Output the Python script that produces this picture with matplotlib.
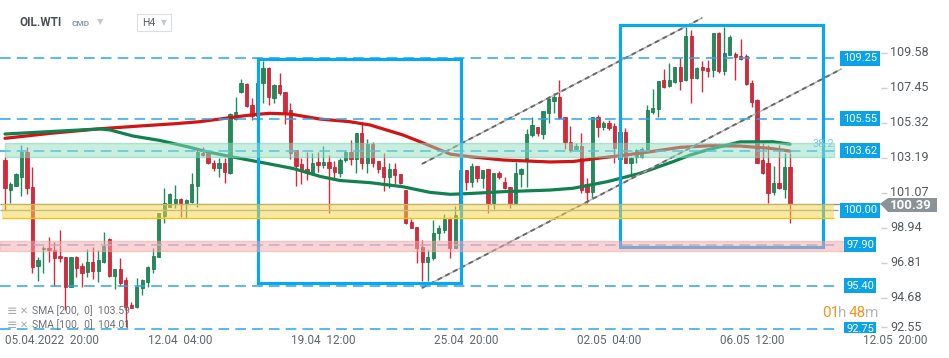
import numpy as np
import matplotlib.pyplot as plt
from matplotlib.patches import Rectangle, Polygon

plt.rcParams['font.family'] = ['Roboto', 'DejaVu Sans']

# H4 candles, OIL.WTI
opens = [103.05, 101.22, 101.48, 102.03, 103.55, 101.42, 96.59, 97.65, 97.67, 97.57,
         97.20, 97.12, 95.34, 97.12, 96.59, 96.25, 96.86, 96.31, 96.86, 98.22,
         95.98, 96.39, 95.74, 94.22, 94.12, 95.24, 95.64, 96.39, 97.12, 99.64,
         100.21, 100.45, 100.67, 100.41, 100.47, 101.46, 103.45, 103.45, 102.88, 102.54,
         102.84, 102.27, 105.52, 107.21, 107.67, 106.39, 105.72, 107.71, 108.63, 106.80,
         107.60, 107.20, 106.09, 103.65, 102.80, 102.48, 102.27, 102.94, 102.74, 102.94,
         102.64, 102.27, 103.05, 103.55, 103.09, 104.71, 102.88, 104.02, 103.00, 102.60,
         101.99, 102.48, 102.17, 101.22, 99.29, 98.95, 97.73, 96.86, 97.06, 98.58,
         98.79, 99.43, 97.67, 100.00, 102.44, 101.73, 102.68, 101.93, 102.48, 100.41,
         102.27, 101.73, 101.42, 100.45, 102.19, 103.05, 104.57, 105.03, 104.63, 105.93,
         106.66, 106.86, 105.65, 104.16, 103.70, 103.90, 101.59, 101.12, 105.65, 105.04,
         105.32, 105.12, 103.09, 104.77, 102.88, 103.25, 103.25, 103.70, 105.99, 106.13,
         107.92, 107.55, 107.82, 108.69, 107.92, 110.60, 108.02, 108.69, 108.63, 108.53,
         110.80, 108.49, 109.44, 109.50, 109.38, 109.38, 107.72, 106.70, 103.05, 102.88,
         101.12, 101.67, 101.26, 102.60]
highs = [103.21, 101.73, 102.23, 103.96, 103.86, 102.64, 97.16, 97.81, 98.38, 98.07,
         98.78, 97.16, 97.16, 97.20, 96.76, 97.61, 97.77, 97.57, 98.68, 98.28,
         96.39, 97.06, 95.94, 94.42, 95.84, 95.78, 96.59, 97.67, 99.84, 101.32,
         101.02, 101.52, 100.71, 100.65, 102.27, 103.65, 103.82, 103.55, 103.05, 103.15,
         103.15, 105.89, 106.90, 107.96, 107.75, 106.80, 107.75, 109.09, 108.73, 107.70,
         108.32, 107.20, 106.49, 103.65, 103.15, 103.55, 103.49, 103.55, 103.90, 103.35,
         103.00, 103.15, 103.65, 104.26, 104.71, 105.32, 104.30, 104.16, 103.00, 103.45,
         102.88, 102.84, 102.17, 101.22, 99.43, 98.99, 98.18, 97.57, 99.39, 99.09,
         99.76, 99.60, 100.25, 102.44, 102.44, 102.88, 102.68, 102.44, 102.48, 102.27,
         102.37, 101.99, 101.42, 102.94, 102.54, 104.91, 105.64, 105.07, 106.05, 106.94,
         107.15, 107.92, 105.65, 105.12, 104.10, 104.71, 101.93, 105.65, 105.79, 105.44,
         105.48, 105.28, 104.80, 104.98, 103.25, 103.70, 103.86, 106.40, 107.35, 107.88,
         108.57, 108.93, 108.73, 109.24, 111.17, 110.96, 108.69, 109.10, 109.14, 110.80,
         110.86, 111.17, 110.66, 109.64, 110.40, 109.50, 107.92, 106.74, 104.06, 103.96,
         102.68, 103.96, 103.45, 103.45]
lows = [100.00, 100.41, 101.48, 100.85, 100.98, 96.15, 95.70, 96.15, 96.86, 95.38,
        96.86, 93.92, 95.34, 95.90, 95.34, 95.90, 95.78, 95.64, 96.76, 95.90,
        95.17, 95.38, 92.89, 94.02, 94.02, 94.83, 95.34, 96.15, 97.12, 99.19,
        100.21, 100.11, 99.60, 99.50, 100.45, 100.21, 103.29, 102.80, 102.40, 102.03,
        101.67, 102.19, 105.48, 107.14, 106.29, 105.48, 105.50, 106.49, 106.39, 106.50,
        107.00, 105.24, 103.09, 101.48, 101.58, 101.83, 102.20, 102.33, 102.54, 99.84,
        101.83, 102.03, 102.94, 102.74, 102.23, 102.48, 102.27, 102.60, 102.27, 101.18,
        101.32, 101.58, 101.58, 99.15, 98.89, 96.80, 95.70, 95.70, 96.96, 98.18,
        98.58, 97.06, 97.67, 99.80, 101.22, 101.42, 101.73, 101.32, 99.80, 100.04,
        101.87, 101.26, 100.11, 100.41, 101.42, 101.42, 104.47, 104.51, 104.30, 105.28,
        105.93, 105.53, 103.70, 103.56, 103.66, 101.06, 100.45, 100.72, 104.47, 104.90,
        104.87, 102.88, 102.90, 102.88, 102.08, 102.88, 103.15, 103.66, 105.85, 105.65,
        107.41, 107.51, 107.76, 107.31, 107.88, 106.50, 107.96, 107.21, 108.12, 108.12,
        108.37, 108.22, 109.44, 107.92, 109.14, 107.61, 106.26, 102.88, 102.20, 100.45,
        100.92, 101.26, 100.72, 99.19]
closes = [101.32, 101.58, 102.17, 103.55, 101.32, 96.55, 96.96, 97.70, 97.57, 97.06,
          97.06, 95.34, 97.12, 96.45, 96.19, 96.86, 96.31, 96.96, 97.81, 95.98,
          96.39, 95.54, 94.12, 94.06, 95.30, 95.74, 96.51, 97.20, 99.80, 100.41,
          100.98, 100.67, 100.41, 100.61, 101.58, 103.55, 103.35, 102.84, 102.54, 102.88,
          102.34, 105.85, 105.99, 107.75, 106.33, 105.72, 107.71, 108.63, 106.90, 107.60,
          107.10, 105.99, 103.45, 102.68, 102.40, 102.23, 102.84, 102.74, 102.94, 102.54,
          102.34, 103.05, 103.55, 103.09, 104.71, 102.88, 104.02, 102.88, 102.48, 101.99,
          102.48, 102.13, 101.62, 99.19, 98.89, 97.67, 96.86, 97.16, 98.62, 98.89,
          99.43, 97.67, 99.70, 102.44, 101.73, 102.68, 101.93, 102.44, 100.41, 102.27,
          101.99, 101.32, 100.45, 102.23, 102.48, 104.63, 105.17, 104.67, 106.05, 106.74,
          106.86, 105.59, 104.16, 103.66, 103.90, 101.22, 101.12, 105.65, 105.04, 105.32,
          104.98, 103.76, 104.77, 102.88, 103.15, 103.66, 103.70, 106.09, 106.19, 107.88,
          107.47, 107.92, 108.69, 107.88, 110.60, 108.02, 108.63, 108.53, 108.49, 110.76,
          108.49, 109.54, 110.52, 109.30, 109.18, 107.68, 106.60, 102.88, 102.28, 101.06,
          101.67, 101.33, 102.60, 100.39]

# moving averages (bar index, price)
sma200_x = [0, 8.2, 17.3, 24.6, 30.6, 35.5, 41.5, 45.5, 48.3, 51.9, 57.4, 62.8, 66.5, 72.5,
            75.6, 81.1, 84.7, 90.7, 99.3, 103.5, 108.4, 112.0, 117.5, 123.0, 128.4, 133.9,
            139.3, 143]
sma200_y = [104.37, 104.67, 104.95, 105.12, 105.25, 105.38, 105.65, 105.82, 105.89, 105.85,
            105.54, 105.38, 105.18, 104.57, 104.16, 103.41, 103.25, 103.05, 102.93, 102.96,
            103.17, 103.31, 103.55, 103.82, 103.92, 103.90, 103.76, 103.59]
sma100_x = [0, 8.2, 17.3, 19.1, 23.3, 28.2, 33.2, 36.8, 41.5, 47.7, 52.5, 57.4, 61.0, 66.5,
            72.5, 77.4, 81.1, 84.7, 90.7, 99.3, 103.5, 109.7, 115.7, 121.7, 124.8, 127.9,
            131.5, 133.9, 139.9, 143]
sma100_y = [104.63, 104.78, 104.94, 104.88, 104.51, 104.24, 103.86, 103.55, 103.23, 102.84,
            102.53, 102.05, 101.80, 101.67, 101.42, 101.08, 100.96, 101.01, 101.12, 101.22,
            101.33, 101.73, 102.24, 102.95, 103.35, 103.66, 103.96, 104.15, 104.16, 104.01]

levels = [109.25, 105.55, 103.62, 100.00, 97.90, 95.40, 92.75]
axis_ticks = [109.58, 107.45, 105.32, 103.19, 101.07, 98.94, 96.81, 94.68, 92.55]
time_labels = ['05.04.2022  20:00', '12.04  04:00', '19.04  12:00', '25.04  20:00',
               '02.05  04:00', '06.05  12:00', '12.05  20:00']
last_price = 100.39


def bx(px):
    return (px - 5) / 5.49


def py(px):
    return 109.58 - (px - 52.7) / 16.43


fig = plt.figure(figsize=(9.49, 3.58), dpi=100)
ax = fig.add_axes([0, 0, 1, 1])
ax.set_xlim(bx(0), bx(949))
ax.set_ylim(py(358), py(0))
ax.axis('off')

o = np.array(opens); h = np.array(highs); l = np.array(lows); c = np.array(closes)
idx = np.arange(len(o))
up = c >= o
cols = np.where(up, '#1f8d5b', '#d8293b')
edges = np.where(up, '#157146', '#b31d2c')
ax.vlines(idx, l, h, colors=cols, lw=1, zorder=2)
body = np.maximum(np.abs(c - o), 0.07)
ax.bar(idx, body, bottom=np.minimum(o, c), width=0.6, color=cols, edgecolor=edges,
       lw=0.5, zorder=2)

# moving averages
ax.plot(sma200_x, sma200_y, color='#d21414', lw=2.3, zorder=3, solid_capstyle='round')
ax.plot(sma100_x, sma100_y, color='#11824f', lw=2.3, zorder=3, solid_capstyle='round')

# channel
for (x0, y0, x1, y1) in [(75.96, 102.81, 126.96, 111.69), (75.96, 95.26, 152.3, 108.58)]:
    ax.plot([x0, x1], [y0, y1], color='#b4b4b4', lw=1.0, zorder=4)
    ax.plot([x0, x1], [y0, y1], color='#6a6a6a', lw=1.4, dashes=(2.5, 2.0), zorder=4)

# boxes
ax.add_patch(Rectangle((bx(258), py(282.7)), bx(461) - bx(258), py(59.3) - py(282.7),
                       fill=False, ec='#0aa6ee', lw=2.3, zorder=5))
ax.add_patch(Rectangle((bx(620), py(247)), bx(823) - bx(620), py(24.7) - py(247),
                       fill=False, ec='#0aa6ee', lw=2.3, zorder=5))

# dashed levels
for lv in [109.25, 105.55, 103.62, 95.40, 92.75]:
    ax.hlines(lv, bx(0), bx(838), colors='#2aa7ea', lw=1.1, linestyles=(0, (7, 4)), zorder=4)
ax.hlines(97.90, bx(0), bx(838), colors='#95aed0', lw=1.1, linestyles=(0, (7, 4)), zorder=4)
ax.hlines(100.00, bx(0), bx(838), colors='#86aab5', lw=1.0, zorder=4)
ax.hlines(last_price, bx(0), bx(880), colors='#8c9296', lw=1.0, zorder=4)

# zones
ax.add_patch(Rectangle((bx(5), 103.23), bx(834) - bx(5), 104.08 - 103.23,
                       fc='#93dfc2', ec='#72cfac', lw=1, alpha=0.5, zorder=6))
ax.add_patch(Rectangle((bx(2), 99.50), bx(834) - bx(2), last_price - 99.50,
                       fc='#fbd443', ec='none', alpha=0.5, zorder=6))
ax.hlines(99.50, bx(2), bx(834), colors='#f0c21a', lw=1.0, zorder=6)
ax.add_patch(Rectangle((bx(0), 97.51), bx(845) - bx(0), 98.11 - 97.51,
                       fc='#f7abab', ec='#f3a0a0', lw=1, alpha=0.5, zorder=6))
ax.text(bx(823), py(144), '38.2', color='#7cc8ee', fontsize=8, ha='center', va='center',
        zorder=7)

# bottom strip for the time axis
ax.add_patch(Rectangle((bx(0), py(358)), bx(949) - bx(0), py(333) - py(358),
                       fc='white', ec='none', zorder=8))

# level tags on the price scale
for lv in levels:
    ax.text(bx(860), lv, f'{lv:.2f}', color='white', fontsize=8, ha='center', va='center',
            zorder=7, bbox=dict(boxstyle='square,pad=0.22', fc='#0aa3ea', ec='none'))

# price scale
for t in axis_ticks:
    yy = t if t > 93 else py(327)
    ax.hlines(yy, bx(881), bx(887), colors='#cfcfcf', lw=1, zorder=9)
    ax.text(bx(890), yy, f'{t:.2f}', color='#555a5e', fontsize=9, ha='left', va='center',
            zorder=9)

# last price tag
tag = Polygon([(bx(880), last_price), (bx(888), py(198)), (bx(937), py(198)),
               (bx(937), py(212)), (bx(888), py(212))], closed=True, fc='#8c9398',
              ec='none', zorder=9)
ax.add_patch(tag)
ax.text(bx(911), py(205.5), f'{last_price:.2f}', color='white', fontsize=9.5,
        fontweight='bold', ha='center', va='center', zorder=10)

# time axis labels
ax.text(bx(5), py(340), time_labels[0], color='#62676b', fontsize=8.5, ha='left',
        va='center', zorder=9)
for k, lab in enumerate(time_labels[1:]):
    ax.text(bx(180.5 + 142.9 * k), py(340), lab, color='#62676b', fontsize=8.5,
            ha='center', va='center', zorder=9)

# header
fig.text(20 / 949, 1 - 23 / 358, 'OIL.WTI', color='#4a5056', fontsize=8.5,
         fontweight='bold', va='center')
fig.text(72 / 949, 1 - 24 / 358, 'CMD', color='#8e9aa6', fontsize=6, fontweight='bold',
         va='center')
fig.text(97 / 949, 1 - 22 / 358, '▼', color='#c5c9cc', fontsize=6, va='center')
hbox = Rectangle((137 / 949, 1 - 31 / 358), 34 / 949, 17 / 358, transform=fig.transFigure,
                 fill=False, ec='#dcdfe2', lw=0.8)
fig.patches.append(hbox)
fig.text(142 / 949, 1 - 23 / 358, 'H4', color='#5a5f63', fontsize=7.5, va='center')
fig.text(161 / 949, 1 - 22.5 / 358, '▼', color='#c5c9cc', fontsize=5.5, va='center')

# indicator legend
for row, txt in enumerate(['SMA [200,  0]  103.59', 'SMA [100,  0]  104.01']):
    yy = 1 - (311 + 14 * row) / 358
    fig.text(7 / 949, yy, '≡', color='#a5a9ad', fontsize=9, va='center')
    fig.text(20 / 949, yy, '✕', color='#a5a9ad', fontsize=7, va='center')
    fig.text(32 / 949, yy, txt, color='#6e7276', fontsize=7.5, va='center')

# bar countdown
fig.text(822 / 949, 1 - 313 / 358, '01', color='#f7941d', fontsize=11, va='center')
fig.text(838 / 949, 1 - 313 / 358, 'h', color='#b5b8bb', fontsize=11, va='center')
fig.text(849 / 949, 1 - 313 / 358, '48', color='#f7941d', fontsize=11, va='center')
fig.text(865 / 949, 1 - 313 / 358, 'm', color='#b5b8bb', fontsize=11, va='center')

fig.savefig('out.png', dpi=100, facecolor='white')
